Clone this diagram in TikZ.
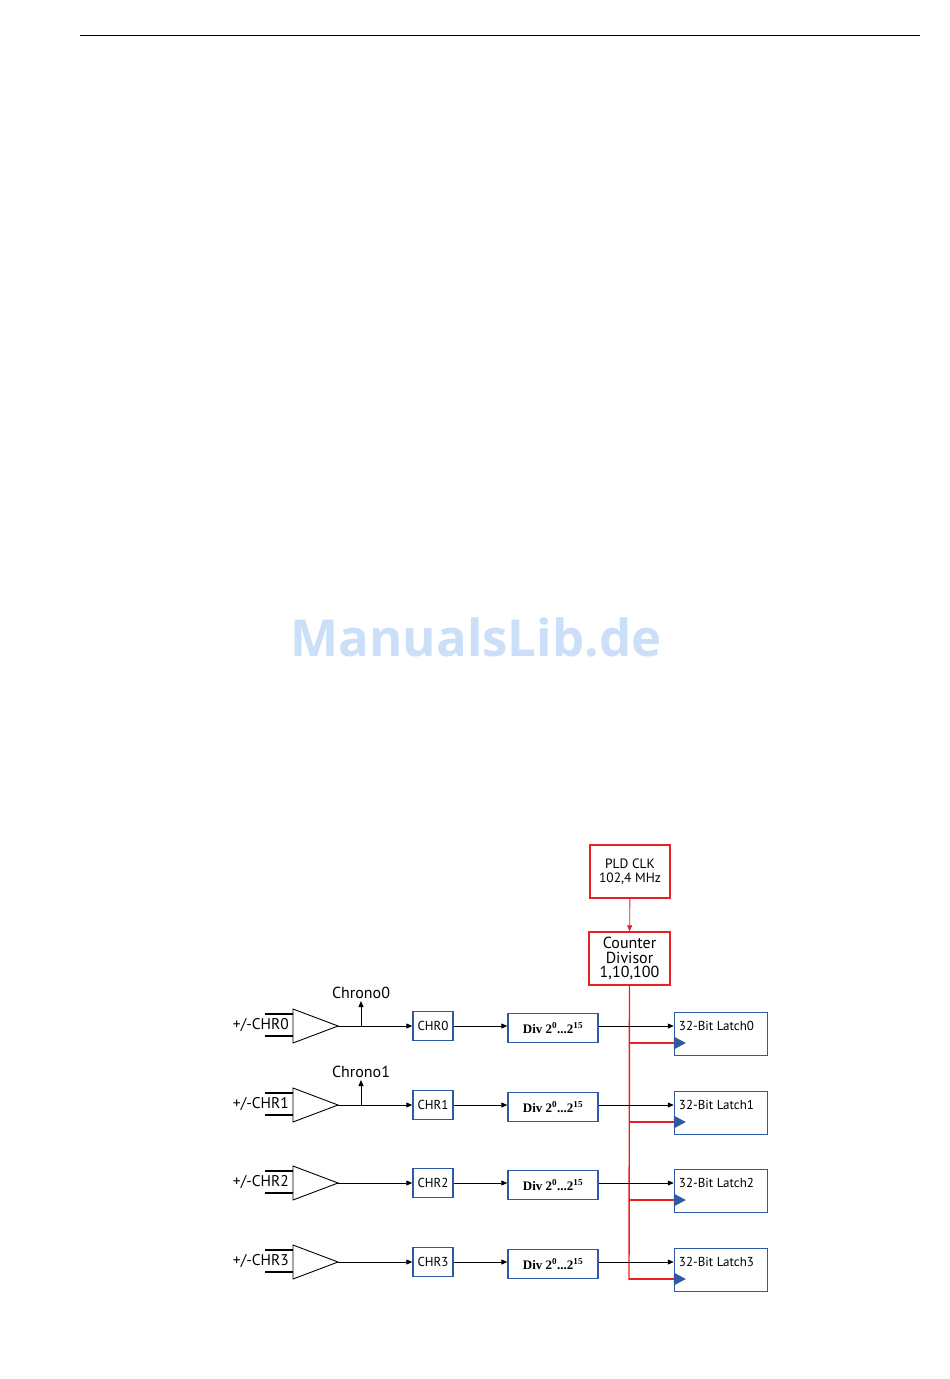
\documentclass[tikz,border=0pt]{standalone}
\usepackage{fontspec}
\usepackage{tikz}
\usepackage{xcolor}
\usetikzlibrary{arrows.meta}
\setmainfont{PT Sans}
\newfontfamily\divfont{Liberation Serif}
\newfontfamily\markfont{Open Sans}
\definecolor{boxblue}{RGB}{47,88,165}
\definecolor{clkred}{RGB}{235,30,35}
\definecolor{markblue}{RGB}{203,223,249}
\tikzset{
  redbox/.style={draw=clkred,line width=1.5pt,inner sep=0pt,minimum width=80,minimum height=53,align=center},
  bluebox/.style={draw=boxblue,line width=1.5pt,inner sep=0pt,minimum height=29},
  sig/.style={-{Triangle[length=6pt,width=5pt]},line width=0.8pt},
  clk/.style={clkred,line width=1.4pt}
}

\begin{document}
\begin{tikzpicture}[x=1pt,y=-1pt]
  \useasboundingbox (0,0) rectangle (950,1379);
  \draw[line width=0.9pt] (80,35) -- (920,35);
  \node[text=markblue,font=\markfont\bfseries\fontsize{51}{55}\selectfont] (mark) at (476,637) {ManualsLib.de};
  % clock source and divisor
  \node[redbox,font=\fontsize{13.5}{14.5}\selectfont] (pld) at (630,871.5) {PLD CLK\\102,4 MHz};
  \node[redbox,minimum width=81,font=\fontsize{16}{14.5}\selectfont] (cnt) at (629.5,958.5) {Counter\\Divisor\\1,10,100};
  \draw[clk,-{Triangle[length=6pt,width=5pt]},line width=0.9pt] (pld) -- (cnt);
  \coordinate (tap3) at (629,1280);
  \draw[clk] (cnt.south) -- (tap3);
  % channels
  \foreach \i/\y in {0/1026,1/1105,2/1183,3/1262} {
    \draw[line width=0.9pt] (293,\y-17) -- (338,\y) -- (293,\y+17) -- cycle;
    \coordinate (amp\i) at (338,\y);
    \draw[line width=1.8pt] (265,\y-12) -- (293,\y-12);
    \draw[line width=1.8pt] (265,\y+10) -- (293,\y+10);
    \node[anchor=east,inner sep=0pt,font=\fontsize{15.5}{16}\selectfont] (in\i) at (289,\y-1) {+/-CHR\i};
    \node[bluebox,minimum width=40,font=\fontsize{13}{13}\selectfont] (chr\i) at (433,\y) {CHR\i};
    \node[bluebox,minimum width=90,font=\divfont\bfseries\fontsize{13}{13}\selectfont] (div\i) at (553,\y+2) {Div 2\textsuperscript{0}...2\textsuperscript{15}};
    \node[draw=boxblue,line width=1.5pt,minimum width=93,minimum height=43] (latch\i) at (721,\y+8) {};
    \node[anchor=west,inner sep=0pt,xshift=5,font=\fontsize{13}{13}\selectfont] (ltxt\i) at (latch\i.west |- amp\i) {32-Bit Latch\i};
    \draw[sig] (amp\i) -- (chr\i);
    \draw[sig] (chr\i) -- (chr\i -| div\i.west);
    \draw[sig] (div\i.east |- chr\i) -- (chr\i -| latch\i.west);
    \coordinate (tap\i) at (629,\y+17);
    \draw[clk] (tap\i) -- (tap\i -| latch\i.west);
    \fill[boxblue] ([yshift=-6.5]latch\i.west |- tap\i) -- ([xshift=12]latch\i.west |- tap\i) -- ([yshift=6.5]latch\i.west |- tap\i) -- cycle;
  }
  % chrono outputs
  \foreach \i in {0,1} {
    \coordinate (ch\i) at (361,0 |- amp\i);
    \draw[sig] (ch\i) -- ++(0,-25) node[above=2pt,inner sep=0pt,font=\fontsize{16}{16}\selectfont] (chrono\i) {Chrono\i};
  }
\end{tikzpicture}
\end{document}
